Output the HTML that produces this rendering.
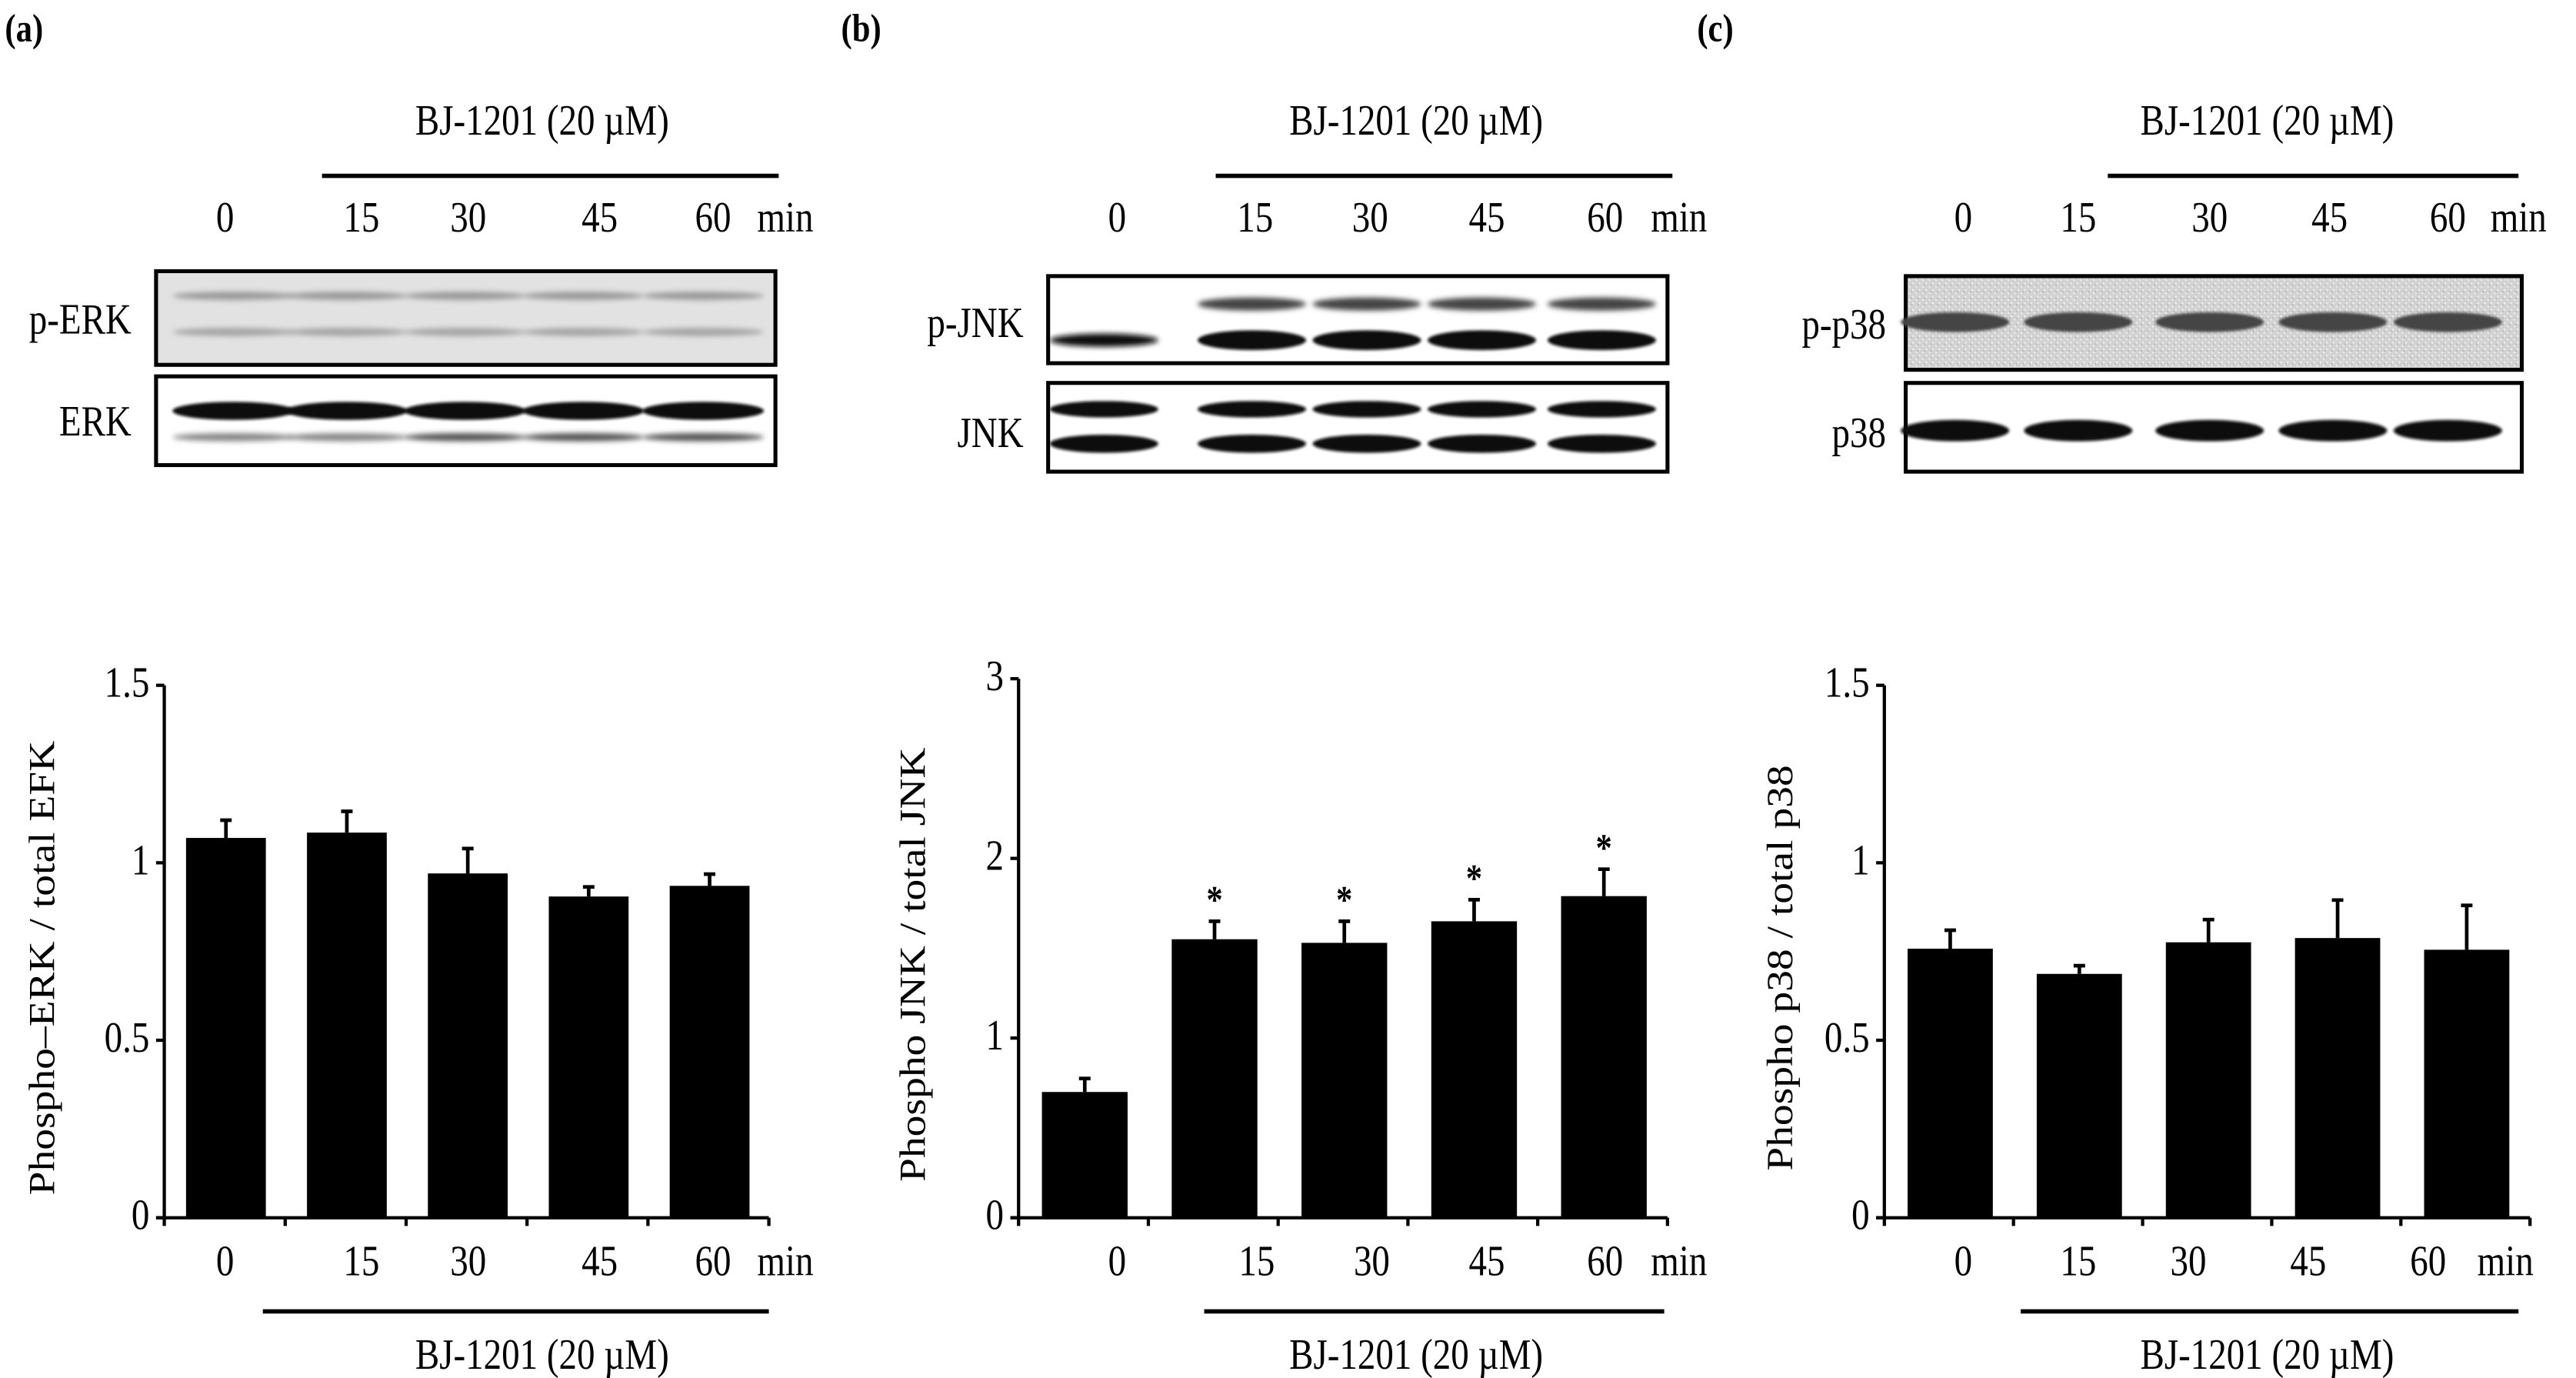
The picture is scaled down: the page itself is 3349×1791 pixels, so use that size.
<!DOCTYPE html>
<html><head><meta charset="utf-8"><style>
html,body{margin:0;padding:0;background:#fff;}
svg{display:block;font-family:"Liberation Serif","Times New Roman",serif;}
</style></head><body>
<svg id="fig" width="3349" height="1791" viewBox="0 0 1568 838.5" xmlns="http://www.w3.org/2000/svg">
<defs>
<filter id="blur1" x="-20%" y="-100%" width="140%" height="300%"><feGaussianBlur stdDeviation="1.6"/></filter>
<filter id="blur2" x="-20%" y="-100%" width="140%" height="300%"><feGaussianBlur stdDeviation="0.9"/></filter>
<pattern id="speck" width="4" height="4" patternUnits="userSpaceOnUse"><rect width="4" height="4" fill="#d2d2d2"/><rect x="0" y="0" width="1" height="1" fill="#f2f2f2"/><rect x="2" y="2" width="1" height="1" fill="#eee"/><rect x="3" y="1" width="1" height="1" fill="#bbb"/></pattern>
</defs>
<g id="static"></g>
<g id="charts"></g>
</svg>
<script>
// ---- data ----
const categories = ["0","15","30","45","60"];
const erkValues = [1.07, 1.085, 0.97, 0.905, 0.935];
const erkErrors = [0.05, 0.06, 0.07, 0.027, 0.033];
const jnkValues = [0.70, 1.55, 1.53, 1.65, 1.79];
const jnkErrors = [0.075, 0.10, 0.12, 0.12, 0.15];
const jnkSignificant = [false, true, true, true, true];
const p38Values = [0.758, 0.687, 0.776, 0.788, 0.755];
const p38Errors = [0.052, 0.023, 0.064, 0.107, 0.125];
const p38Significant = [false, false, false, false, false];
const erkSignificant = [false, false, false, false, false];
const erkTicks = [0, 0.5, 1, 1.5];
const erkTickLabels = ["0","0.5","1","1.5"];
const jnkTicks = [0, 1, 2, 3];
const jnkTickLabels = ["0","1","2","3"];
const p38Ticks = [0, 0.5, 1, 1.5];
const p38TickLabels = ["0","0.5","1","1.5"];

const NS = "http://www.w3.org/2000/svg";
const FS = 22;
function mk(tag, attrs, parent, text){
  const e = document.createElementNS(NS, tag);
  for (const k in attrs) e.setAttribute(k, attrs[k]);
  if (text !== undefined) e.textContent = text;
  parent.appendChild(e);
  return e;
}
const st = document.getElementById('static');
const ch = document.getElementById('charts');

// ---- panel labels, headers, blots ----
const panels = [
 {id:'a', lx:3, hdrX:330, lineX:[196,474], lanes:[137,220,285,365,434], minX:478, boxX:[95,472],
  rows:[{name:'p-ERK', y:[165,222], ly:203, lx:80}, {name:'ERK', y:[229,283], ly:265, lx:80}]},
 {id:'b', lx:512, hdrX:862, lineX:[740,1018], lanes:[680,764,834,905,977], minX:1022, boxX:[638,1015],
  rows:[{name:'p-JNK', y:[168,221], ly:205, lx:623}, {name:'JNK', y:[233,287], ly:272, lx:623}]},
 {id:'c', lx:1033, hdrX:1380, lineX:[1283,1533], lanes:[1195,1265,1345,1418,1490], minX:1533, boxX:[1160,1535],
  rows:[{name:'p-p38', y:[168,225], ly:206, lx:1148}, {name:'p38', y:[233,287], ly:272, lx:1148}]}
];
panels.forEach(p=>{
  let t = mk('text',{x:p.lx,y:25,'font-size':20,'font-weight':'bold'},st,'('+p.id+')');
  
  
  t = mk('text',{x:p.hdrX,y:82,'font-size':FS,'text-anchor':'middle'},st,'BJ-1201 (20 \u00b5M)');
  
  
  let l = mk('line',{x1:p.lineX[0],x2:p.lineX[1],y1:107,y2:107,stroke:'#000','stroke-width':2.6},st);
  
  
  categories.forEach((c,i)=>{
    const tt = mk('text',{x:p.lanes[i],y:141,'font-size':FS,'text-anchor':'middle'},st,c);
    
    
  });
  t = mk('text',{x:p.minX,y:141,'font-size':FS,'text-anchor':'middle'},st,'min');
  
  
  p.rows.forEach((r,ri)=>{
    const g = mk('g',{},st);
    
    
    const w = p.boxX[1]-p.boxX[0], h = r.y[1]-r.y[0];
    let bg = '#fff';
    if (p.id==='a' && ri===0) bg='#e2e2e2';
    if (p.id==='c' && ri===0) bg='url(#speck)';
    mk('rect',{x:p.boxX[0],y:r.y[0],width:w,height:h,fill:bg,stroke:'#000','stroke-width':2.4},g);
    const lanes = p.id==='a' ? [142,211,283,355,428] : (p.id==='b' ? [672,762,832,902,975] : [1190,1265,1345,1420,1490]);
    lanes.forEach((lx,li)=>{
      const bands = [];
      if (p.id==='a' && ri===0){ bands.push([r.y[0]+15,2.5,'#9a9a9a'],[r.y[0]+37,2.5,'#a5a5a5']); }
      if (p.id==='a' && ri===1){ bands.push([r.y[0]+21,5.5,'#111'],[r.y[0]+37,2.5,li>=2?'#555':'#888']); }
      if (p.id==='b' && ri===0){ if(li>0) bands.push([r.y[0]+17,4,'#444']); bands.push([r.y[0]+39,li===0?4:6,'#111']); }
      if (p.id==='b' && ri===1){ bands.push([r.y[0]+16,5,'#111'],[r.y[0]+37,5.5,'#111']); }
      if (p.id==='c' && ri===0){ bands.push([r.y[0]+28,6,'#444']); }
      if (p.id==='c' && ri===1){ bands.push([r.y[0]+29,6.5,'#0a0a0a']); }
      bands.forEach(b=>{
        const e = mk('ellipse',{cx:lx,cy:b[0],rx:(p.id==='a'?37:33),ry:b[1],fill:b[2],filter:(b[1]>4?'url(#blur2)':'url(#blur1)')},g);
        
        
      });
    });
    const tl = mk('text',{x:r.lx,y:r.ly,'font-size':FS,'text-anchor':'end'},st,r.name);
    
    
  });
});

// ---- bar charts ----
const charts = [
 {id:'erk', x0:100, xEnd:468, y0:741, yTop:417, max:1.5, vals:erkValues, errs:erkErrors, sig:erkSignificant, ticks:erkTicks, tl:erkTickLabels,
  ylabel:'Phospho\u2013ERK / total EFK', ylx:25, labX:[137,220,285,365,434], minX:478, bl:[160,468], bjX:330},
 {id:'jnk', x0:620, xEnd:1015, y0:741, yTop:413, max:3, vals:jnkValues, errs:jnkErrors, sig:jnkSignificant, ticks:jnkTicks, tl:jnkTickLabels,
  ylabel:'Phospho JNK / total JNK', ylx:555, labX:[680,765,835,905,977], minX:1022, bl:[733,1013], bjX:862},
 {id:'p38', x0:1147, xEnd:1540, y0:741, yTop:417, max:1.5, vals:p38Values, errs:p38Errors, sig:p38Significant, ticks:p38Ticks, tl:p38TickLabels,
  ylabel:'Phospho p38 / total p38', ylx:1083, labX:[1195,1265,1332,1405,1478], minX:1525, bl:[1230,1533], bjX:1380}
];
charts.forEach(c=>{
  const yS = v => c.y0 - (v/c.max)*(c.y0-c.yTop);
  const cw = (c.xEnd-c.x0)/categories.length;
  const xS = i => c.x0 + cw*(i+0.51);
  const bw = cw*0.66;
  const g = mk('g',{},ch);
  
  
  c.vals.forEach((v,i)=>{
    const r = mk('rect',{x:xS(i)-bw/2,y:yS(v),width:bw,height:c.y0-yS(v),fill:'#000'},g);
    
    
    const top = yS(v+c.errs[i]);
    const e = mk('path',{d:`M${xS(i)} ${yS(v)}V${top}M${xS(i)-3.5} ${top}H${xS(i)+3.5}`,stroke:'#000','stroke-width':2.2,fill:'none'},g);
    
    
    if (c.sig[i]){
      const s = mk('text',{x:xS(i),y:top-5,'font-size':20,'font-weight':'bold','text-anchor':'middle'},g,'*');
      
      
    }
  });
  let a = mk('line',{x1:c.x0,x2:c.x0,y1:c.yTop,y2:c.y0+1,stroke:'#000','stroke-width':2},g);
  
  
  a = mk('line',{x1:c.x0-5,x2:c.xEnd,y1:c.y0,y2:c.y0,stroke:'#000','stroke-width':2},g);
  
  
  c.ticks.forEach((tv,i)=>{
    mk('line',{x1:c.x0-5,x2:c.x0,y1:yS(tv),y2:yS(tv),stroke:'#000','stroke-width':2},g);
    const t = mk('text',{x:c.x0-9,y:yS(tv)+7,'font-size':FS,'text-anchor':'end'},g,c.tl[i]);
    
    
  });
  for (let i=0;i<=categories.length;i++){
    mk('line',{x1:c.x0+cw*i,x2:c.x0+cw*i,y1:c.y0,y2:c.y0+5,stroke:'#000','stroke-width':2},g);
  }
  categories.forEach((cat,i)=>{
    const t = mk('text',{x:c.labX[i],y:776,'font-size':FS,'text-anchor':'middle'},g,cat);
    
    
  });
  let t = mk('text',{x:c.minX,y:776,'font-size':FS,'text-anchor':'middle'},g,'min');
  
  
  t = mk('text',{x:0,y:0,'font-size':26,'text-anchor':'middle','data-rot':'1',transform:`translate(${c.ylx+8},${(c.y0+c.yTop)/2+10}) rotate(-90) scale(1,0.85)`},g,c.ylabel);
  
  
  a = mk('line',{x1:c.bl[0],x2:c.bl[1],y1:798,y2:798,stroke:'#000','stroke-width':2.6},g);
  
  
  t = mk('text',{x:c.bjX,y:833,'font-size':FS,'text-anchor':'middle'},g,'BJ-1201 (20 \u00b5M)');
  
  
});

// vertical stretch of horizontal text to mimic tall reference glyphs
document.querySelectorAll('#fig text').forEach(t=>{
  if (t.getAttribute('data-rot')) return;
  const x = t.getAttribute('x'), y = t.getAttribute('y');
  t.setAttribute('x', 0); t.setAttribute('y', 0);
  t.setAttribute('transform', `translate(${x},${y}) scale(1,1.2)`);
});
</script>
</body></html>
